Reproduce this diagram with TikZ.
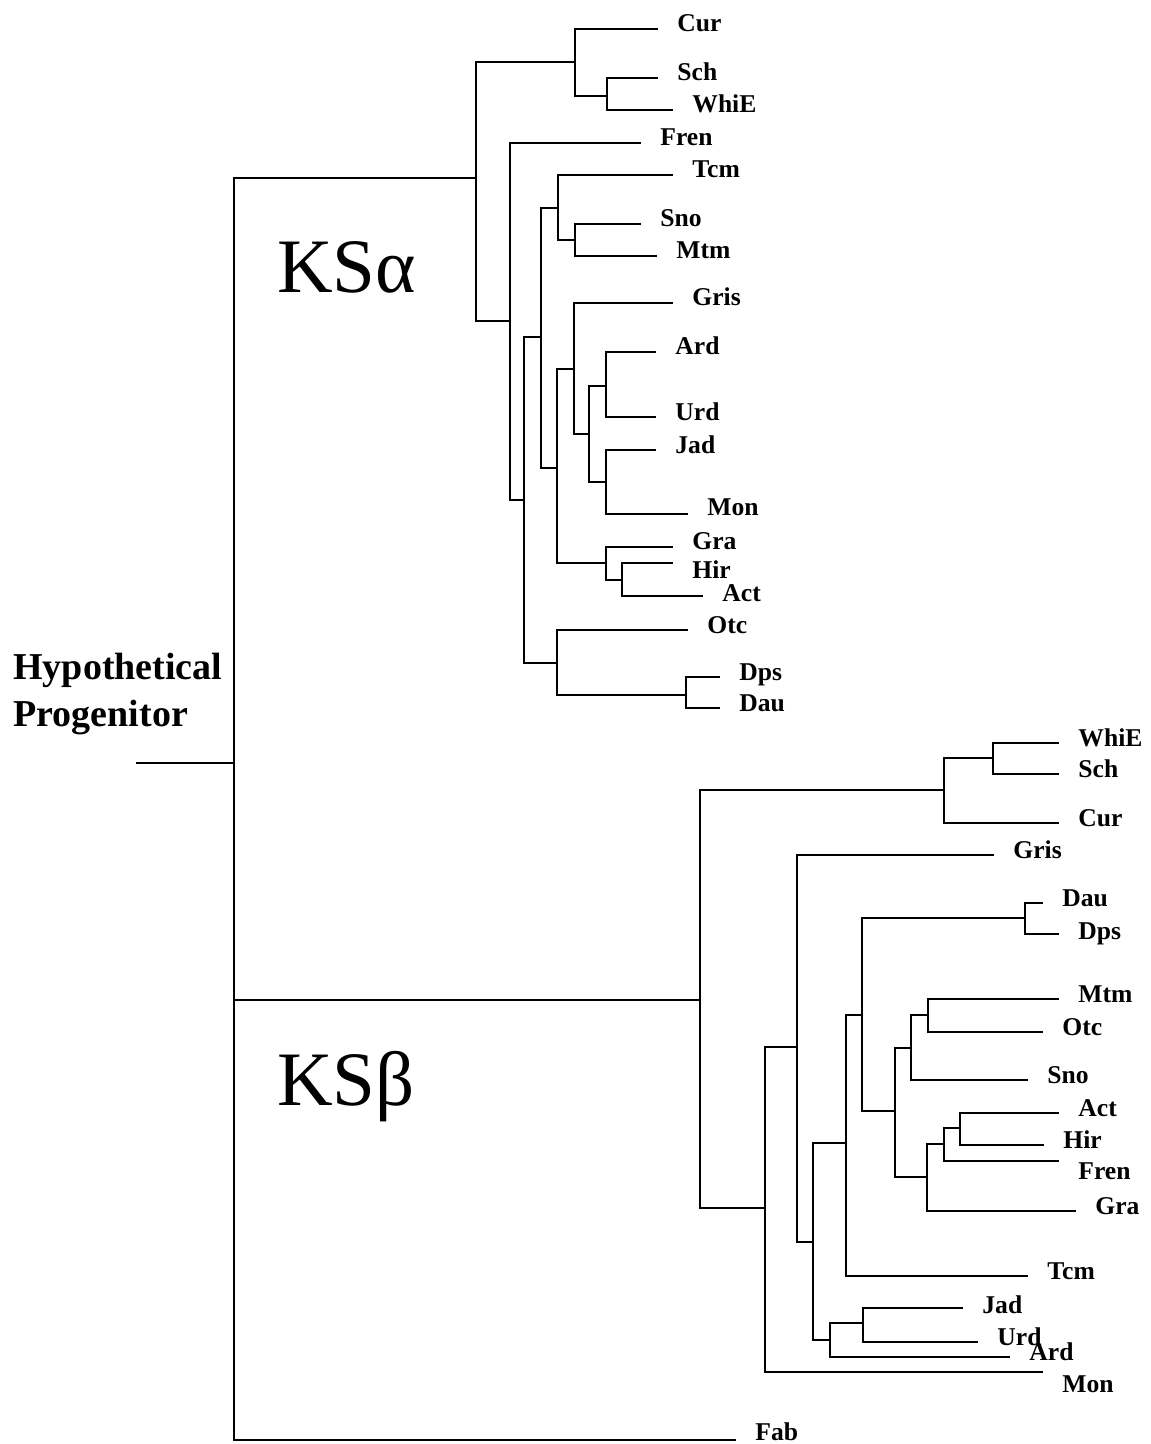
\documentclass[tikz,border=0pt]{standalone}
\usepackage{fontspec}
\setmainfont{Liberation Serif}
\tikzset{every node/.style={font=\bfseries\fontsize{12.8}{14}\selectfont}}

\begin{document}
\begin{tikzpicture}[x=0.5pt, y=-0.5pt,
    branch/.style={line width=1pt, line cap=rect},
    leafbox/.style={anchor=west, inner xsep=10pt, inner ysep=0pt, text height=8.5pt, text depth=5.5pt},
    sunk/.style={text height=#1},
    cladename/.style={font=\fontsize{38.5}{40}\selectfont, anchor=base west, inner sep=0pt}]
  \useasboundingbox (0,0) rectangle (1150,1444);

  % root
  \coordinate (r0) at (137,763);
  \coordinate (r1) at (234,763);
  \node[font=\bfseries\fontsize{19}{23.5}\selectfont, align=left, anchor=north west, inner sep=0pt] (hp) at (13,653) {Hypothetical\\Progenitor};
  \node[leafbox, sunk=5.5pt] (fab) at (735,1440) {Fab};

  % KS alpha
  \node[cladename] (ksa) at (277,293) {KSα};
  \coordinate (a0) at (476,178);
  \coordinate (a1) at (575,62);
  \coordinate (a2) at (607,96);
  \coordinate (a3) at (510,321);
  \coordinate (a4) at (524,500);
  \coordinate (a5) at (541,337);
  \coordinate (a6) at (558,208);
  \coordinate (a7) at (575,240);
  \coordinate (a8) at (557,468);
  \coordinate (a9) at (574,369);
  \coordinate (a10) at (589,434);
  \coordinate (a11) at (606,386);
  \coordinate (a12) at (606,482);
  \coordinate (a13) at (606,563);
  \coordinate (a14) at (622,580);
  \coordinate (a15) at (557,663);
  \coordinate (a16) at (686,695);
  \node[leafbox] (aCur) at (657,29) {Cur};
  \node[leafbox] (aSch) at (657,78) {Sch};
  \node[leafbox] (aWhiE) at (672,110) {WhiE};
  \node[leafbox] (aFren) at (640,143) {Fren};
  \node[leafbox] (aTcm) at (672,175) {Tcm};
  \node[leafbox] (aSno) at (640,224) {Sno};
  \node[leafbox] (aMtm) at (656,256) {Mtm};
  \node[leafbox] (aGris) at (672,303) {Gris};
  \node[leafbox] (aArd) at (655,352) {Ard};
  \node[leafbox] (aUrd) at (655,417) {Urd};
  \node[leafbox] (aJad) at (655,450) {Jad};
  \node[leafbox, sunk=6.5pt] (aMon) at (687,514) {Mon};
  \node[leafbox, sunk=7.5pt] (aGra) at (672,547) {Gra};
  \node[leafbox, sunk=20.5pt] (aHir) at (672,563) {Hir};
  \node[leafbox, sunk=10.5pt] (aAct) at (702,596) {Act};
  \node[leafbox] (aOtc) at (687,630) {Otc};
  \node[leafbox] (aDps) at (719,677) {Dps};
  \node[leafbox] (aDau) at (719,708) {Dau};

  % KS beta
  \node[cladename] (ksb) at (277,1105) {KSβ};
  \coordinate (b0) at (700,1000);
  \coordinate (b1) at (944,790);
  \coordinate (b2) at (993,758);
  \coordinate (b3) at (765,1208);
  \coordinate (b4) at (797,1047);
  \coordinate (b5) at (813,1242);
  \coordinate (b6) at (846,1143);
  \coordinate (b7) at (862,1015);
  \coordinate (b8) at (1025,918);
  \coordinate (b9) at (895,1111);
  \coordinate (b10) at (911,1048);
  \coordinate (b11) at (928,1015);
  \coordinate (b12) at (927,1177);
  \coordinate (b13) at (944,1144);
  \coordinate (b14) at (960,1128);
  \coordinate (b15) at (830,1340);
  \coordinate (b16) at (863,1323);
  \node[leafbox] (bWhiE) at (1058,743) {WhiE};
  \node[leafbox] (bSch) at (1058,774) {Sch};
  \node[leafbox] (bCur) at (1058,823) {Cur};
  \node[leafbox] (bGris) at (993,855) {Gris};
  \node[leafbox] (bDau) at (1042,903) {Dau};
  \node[leafbox, sunk=10.5pt] (bDps) at (1058,934) {Dps};
  \node[leafbox] (bMtm) at (1058,999) {Mtm};
  \node[leafbox] (bOtc) at (1042,1032) {Otc};
  \node[leafbox] (bSno) at (1027,1080) {Sno};
  \node[leafbox] (bAct) at (1058,1113) {Act};
  \node[leafbox] (bHir) at (1043,1145) {Hir};
  \node[leafbox, sunk=23.5pt] (bFren) at (1058,1161) {Fren};
  \node[leafbox] (bGra) at (1075,1211) {Gra};
  \node[leafbox] (bTcm) at (1027,1276) {Tcm};
  \node[leafbox, sunk=10.5pt] (bJad) at (962,1308) {Jad};
  \node[leafbox] (bUrd) at (977,1342) {Urd};
  \node[leafbox] (bArd) at (1009,1357) {Ard};
  \node[leafbox, sunk=25.5pt] (bMon) at (1042,1372) {Mon};

  % branches
  \draw[branch] (r0) -- (r1);
  \draw[branch] (r1) |- (a0) (r1) |- (b0) (r1) |- (fab);

  \draw[branch] (a0) |- (a1) (a0) |- (a3);
  \draw[branch] (a1) |- (aCur) (a1) |- (a2);
  \draw[branch] (a2) |- (aSch) (a2) |- (aWhiE);
  \draw[branch] (a3) |- (aFren) (a3) |- (a4);
  \draw[branch] (a4) |- (a5) (a4) |- (a15);
  \draw[branch] (a5) |- (a6) (a5) |- (a8);
  \draw[branch] (a6) |- (aTcm) (a6) |- (a7);
  \draw[branch] (a7) |- (aSno) (a7) |- (aMtm);
  \draw[branch] (a8) |- (a9) (a8) |- (a13);
  \draw[branch] (a9) |- (aGris) (a9) |- (a10);
  \draw[branch] (a10) |- (a11) (a10) |- (a12);
  \draw[branch] (a11) |- (aArd) (a11) |- (aUrd);
  \draw[branch] (a12) |- (aJad) (a12) |- (aMon);
  \draw[branch] (a13) |- (aGra) (a13) |- (a14);
  \draw[branch] (a14) |- (aHir) (a14) |- (aAct);
  \draw[branch] (a15) |- (aOtc) (a15) |- (a16);
  \draw[branch] (a16) |- (aDps) (a16) |- (aDau);

  \draw[branch] (b0) |- (b1) (b0) |- (b3);
  \draw[branch] (b1) |- (b2) (b1) |- (bCur);
  \draw[branch] (b2) |- (bWhiE) (b2) |- (bSch);
  \draw[branch] (b3) |- (b4) (b3) |- (bMon);
  \draw[branch] (b4) |- (bGris) (b4) |- (b5);
  \draw[branch] (b5) |- (b6) (b5) |- (b15);
  \draw[branch] (b6) |- (b7) (b6) |- (bTcm);
  \draw[branch] (b7) |- (b8) (b7) |- (b9);
  \draw[branch] (b8) |- (bDau) (b8) |- (bDps);
  \draw[branch] (b9) |- (b10) (b9) |- (b12);
  \draw[branch] (b10) |- (b11) (b10) |- (bSno);
  \draw[branch] (b11) |- (bMtm) (b11) |- (bOtc);
  \draw[branch] (b12) |- (b13) (b12) |- (bGra);
  \draw[branch] (b13) |- (b14) (b13) |- (bFren);
  \draw[branch] (b14) |- (bAct) (b14) |- (bHir);
  \draw[branch] (b15) |- (b16) (b15) |- (bArd);
  \draw[branch] (b16) |- (bJad) (b16) |- (bUrd);
\end{tikzpicture}
\end{document}
